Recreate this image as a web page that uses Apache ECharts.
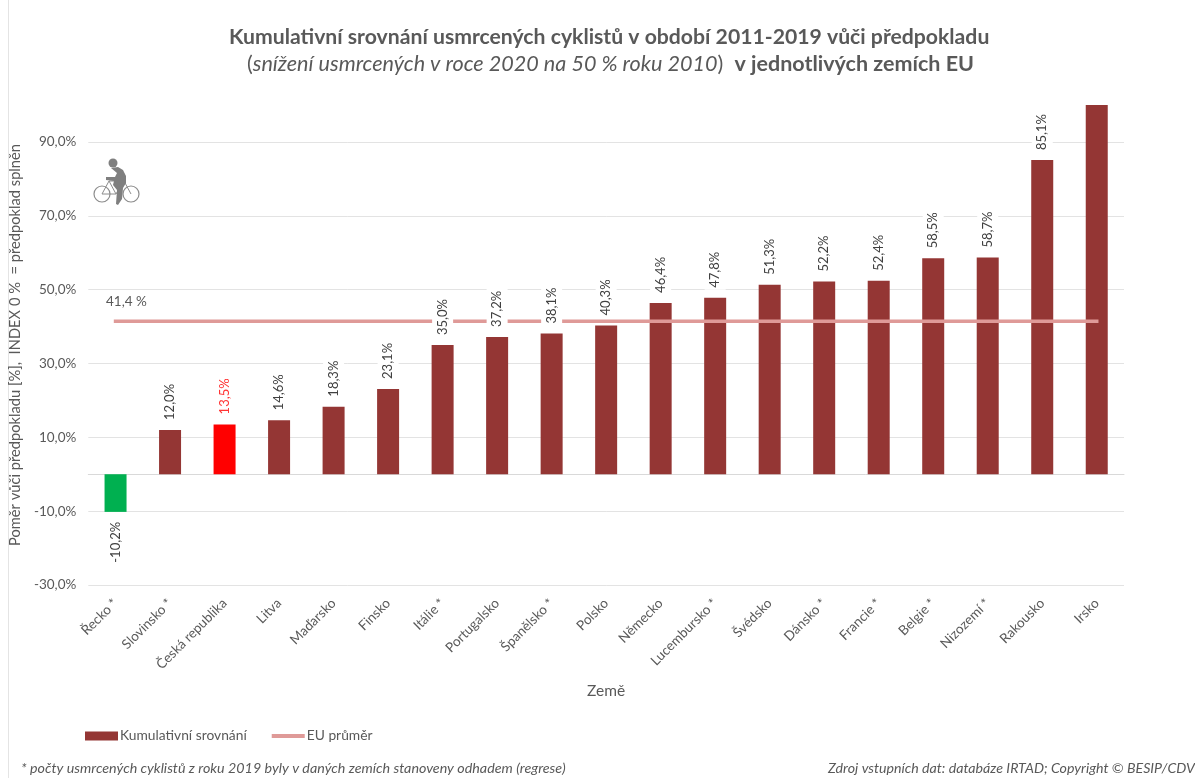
<!DOCTYPE html>
<html><head><meta charset="utf-8">
<style>html,body{margin:0;padding:0;background:#fff}#c{width:1195px;height:778px}</style>
<script src="https://cdn.jsdelivr.net/npm/echarts@6/dist/echarts.min.js"></script>
</head><body><div id="c"></div>
<script>
const countries = ['Řecko *','Slovinsko *','Česká republika','Litva','Maďarsko','Finsko','Itálie *','Portugalsko','Španělsko *','Polsko','Německo','Lucembursko *','Švédsko','Dánsko *','Francie *','Belgie *','Nizozemí *','Rakousko','Irsko'];
const cumulative = [-10.2,12.0,13.5,14.6,18.3,23.1,35.0,37.2,38.1,40.3,46.4,47.8,51.3,52.2,52.4,58.5,58.7,85.1,100];
const euAverage = [41.4,41.4,41.4,41.4,41.4,41.4,41.4,41.4,41.4,41.4,41.4,41.4,41.4,41.4,41.4,41.4,41.4,41.4,41.4];
const barColor = '#943634', lineColor = '#DF9A98', textColor = '#595959';
const font = 'Lato,"Noto Sans",sans-serif';
const fmt = v => v.toFixed(1).replace('.', ',') + '%';
const chart = echarts.init(document.getElementById('c'), null, {renderer:'canvas'});
chart.setOption({
  animation:false,
  backgroundColor:'#fff',
  textStyle:{fontFamily:font,color:textColor},
  grid:{left:86,right:71,top:105,bottom:193,containLabel:false},
  legend:{
    left:80,top:724,itemGap:25,itemWidth:33,itemHeight:9,
    textStyle:{fontSize:13.8,color:textColor,fontFamily:font,padding:[0,0,0,-3]},
    data:[{name:'Kumulativní srovnání',icon:'rect',itemStyle:{color:barColor}},
          {name:'EU průměr',icon:'path://M0,0H34V4H0Z',itemStyle:{color:lineColor}}]
  },
  xAxis:{
    type:'category',data:countries,name:'Země',nameLocation:'middle',nameGap:98,
    nameTextStyle:{fontSize:15.5,color:textColor,fontFamily:font},
    axisLine:{onZero:true,lineStyle:{color:'#D9D9D9',width:1}},
    axisTick:{show:false},
    axisLabel:{rotate:45,interval:0,fontSize:13.5,color:textColor,margin:16,fontFamily:font},
    position:'bottom'
  },
  yAxis:{
    type:'value',min:-30,max:100,interval:20,
    name:'Poměr vůči předpokladu [%],  INDEX 0 %  = předpoklad splněn',
    nameLocation:'middle',nameRotate:90,nameGap:51,
    nameTextStyle:{fontSize:14.7,color:textColor,fontFamily:font},
    axisLine:{show:false},axisTick:{show:false},
    axisLabel:{formatter:v=>v===100?'':fmt(v),fontSize:13.5,color:textColor,margin:12,fontFamily:font,showMaxLabel:false},
    splitLine:{showMaxLine:false,lineStyle:{color:'#E3E3E3',width:1}}
  },
  graphic:[
    {type:'rect',silent:true,z:-10,shape:{x:8.5,y:-2,width:1300,height:800},style:{fill:'none',stroke:'#E4E4E4',lineWidth:1}},
    {type:'text',x:229,y:27,style:{text:'Kumulativní srovnání usmrcených cyklistů v období 2011-2019 vůči předpokladu',
      font:'bold 21.2px '+font,fill:textColor}},
    {type:'text',x:247,y:53,style:{
      rich:{a:{font:'21.6px '+font,fill:textColor},i:{font:'italic 21.6px '+font,fill:textColor},b:{font:'bold 21.5px '+font,fill:textColor}},
      text:'{a|(}{i|snížení usmrcených v roce 2020 na 50 % roku 2010}{a|)  }{b|v jednotlivých zemích EU}'}},
    {type:'text',x:106,y:295,style:{text:'41,4 %',font:'13.5px '+font,fill:textColor}},
    {type:'text',x:21,y:761,style:{text:'* počty usmrcených cyklistů z roku 2019 byly v daných zemích stanoveny odhadem (regrese)',font:'italic 14.3px '+font,fill:textColor}},
    {type:'text',x:828,y:761,style:{text:'Zdroj vstupních dat: databáze IRTAD; Copyright © BESIP/CDV',font:'italic 14.2px '+font,fill:textColor}},
    {type:'group',x:92,y:157,silent:true,children:[
      {type:'circle',shape:{cx:10,cy:37,r:8},style:{fill:'none',stroke:'#8c8c8c',lineWidth:1.2}},
      {type:'circle',shape:{cx:39,cy:37,r:8},style:{fill:'none',stroke:'#8c8c8c',lineWidth:1.2}},
      {type:'polyline',shape:{points:[[10,37],[17,24],[32,24],[39,37]]},style:{fill:'none',stroke:'#8c8c8c',lineWidth:1}},
      {type:'polyline',shape:{points:[[17,24],[24,37],[32,24]]},style:{fill:'none',stroke:'#8c8c8c',lineWidth:1}},
      {type:'polyline',shape:{points:[[24,37],[10,37]]},style:{fill:'none',stroke:'#8c8c8c',lineWidth:1}},
      {type:'circle',shape:{cx:21,cy:6,r:4.5},style:{fill:'#7f7f7f'}},
      {type:'polygon',shape:{points:[[19,11],[26,10],[31,13],[34,19],[34,26],[31,31],[30,42],[26,48],[24,47],[25,33],[21,28],[22,24],[14,23],[14,20],[23,20],[25,16]]},style:{fill:'#7f7f7f'}}
    ]}
  ],
  series:[
    {name:'Kumulativní srovnání',type:'bar',barWidth:22,barGap:'-100%',z:2,
     data:cumulative.map((v,i)=>({
       value:v,
       itemStyle:{color:i===0?'#00B050':i===2?'#FF0000':barColor}
     }))},
    {name:'EU průměr',type:'line',data:euAverage,symbol:'none',z:3,
     lineStyle:{color:lineColor,width:3.5,cap:'square'}},
    {name:'Popisky',type:'bar',barWidth:22,barGap:'-100%',z:5,silent:true,
     itemStyle:{color:'rgba(0,0,0,0)'},
     data:cumulative.map((v,i)=>({
       value:v,
       label:v<0
         ? {show:true,position:'bottom',align:'right',color:'#404040'}
         : {show:i<18,position:'top',align:'left',color:i===2?'#FF3333':'#404040'}
     })),
     label:{show:true,rotate:90,distance:8,fontSize:13,fontFamily:font,verticalAlign:'middle',
       backgroundColor:'#fff',padding:[4,2,4,2],
       formatter:p=>fmt(p.value)}}
  ]
});
</script></body></html>
